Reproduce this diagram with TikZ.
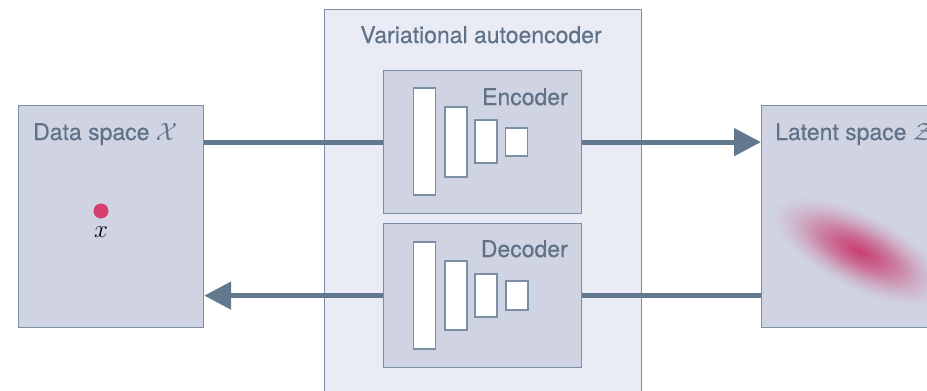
\documentclass[tikz,border=0pt]{standalone}
\usepackage{fontspec}
\newfontfamily\helv[FakeBold=0.3]{TeX Gyre Heros}
\usetikzlibrary{arrows.meta}
\definecolor{boxfill}{RGB}{208,212,226}
\definecolor{vaefill}{RGB}{233,236,245}
\definecolor{edgec}{RGB}{122,142,166}
\definecolor{arrowc}{RGB}{98,120,143}
\definecolor{labelc}{RGB}{95,114,135}
\definecolor{dotc}{RGB}{214,64,112}
\definecolor{pinkc}{RGB}{200,55,108}
\pgfdeclareradialshading{gauss}{\pgfpoint{0bp}{0bp}}{color(0bp)=(pinkc!95!boxfill); color(5bp)=(pinkc!78!boxfill); color(10bp)=(pinkc!58!boxfill); color(14bp)=(pinkc!38!boxfill); color(18bp)=(pinkc!20!boxfill); color(22bp)=(pinkc!7!boxfill); color(25bp)=(boxfill); color(50bp)=(boxfill)}
\begin{document}
\begin{tikzpicture}[x=1pt,y=-1pt,
  box/.style={draw=edgec, line width=1.2pt, fill=boxfill, inner sep=0pt, anchor=north west},
  bar/.style={draw=edgec, line width=1.2pt, fill=white, inner sep=0pt, minimum width=22pt},
  lbl/.style={text=labelc, font=\helv\fontsize{23}{27}\selectfont, inner sep=0pt},
  conn/.style={draw=arrowc, line width=5pt},
  tip/.style={-{Triangle[length=27pt,width=27pt]}}]
\useasboundingbox (0,0) rectangle (927,391);
\clip (0,0) rectangle (927,391);
% boxes
\node[box, fill=vaefill, minimum width=317pt, minimum height=420pt] (vae) at (324,9) {};
\node[box, minimum width=185pt, minimum height=222pt] (data) at (18,105) {};
\node[box, minimum width=250pt, minimum height=222pt] (latent) at (761,105) {};
\node[box, minimum width=198pt, minimum height=143pt] (enc) at (383,70) {};
\node[box, minimum width=198pt, minimum height=144pt] (dec) at (383,223) {};
% encoder layers
\node[bar, minimum height=107pt] (e1) at (424.5,141.5) {};
\node[bar, minimum height=70pt] (e2) at (456,142) {};
\node[bar, minimum height=43pt] (e3) at (486,141.5) {};
\node[bar, minimum height=28pt] (e4) at (516.5,142) {};
% decoder layers
\node[bar, minimum height=107pt] (d1) at (424.5,295.5) {};
\node[bar, minimum height=69pt] (d2) at (456,295.5) {};
\node[bar, minimum height=43pt] (d3) at (486,295.5) {};
\node[bar, minimum height=29pt] (d4) at (517,295.5) {};
% connectors
\draw[conn] (data.east |- enc.west) -- (enc.west);
\draw[conn, tip] (enc.east) -- (latent.west |- enc.east);
\draw[conn] (latent.west |- dec.east) -- (dec.east);
\draw[conn, tip] (dec.west) -- (data.east |- dec.west);
% gaussian in latent space
\begin{scope}[transform canvas={shift={(859pt,-251pt)},rotate=-27}]
\shade[shading=gauss] (0,0) ellipse (96pt and 38pt);
\end{scope}
% data point
\node[circle, fill=dotc, minimum size=15pt, inner sep=0pt] (pt) at (101,211) {};
\node[anchor=base, inner sep=0pt, font=\fontsize{24}{28}\selectfont] (xl) at (101,237) {$x$};
% labels
\node[lbl, anchor=base] (tvae) at (481,43) {Variational autoencoder};
\node[lbl, anchor=base east] (tenc) at (568,105) {Encoder};
\node[lbl, anchor=base east] (tdec) at (568,257) {Decoder};
\node[lbl, anchor=base west] (tdata) at (33,140) {Data space {\fontsize{26}{30}\selectfont$\mathcal{X}$}};
\node[lbl, anchor=base west] (tlat) at (775,140) {Latent space {\fontsize{26}{30}\selectfont$\mathcal{Z}$}};
\end{tikzpicture}
\end{document}
